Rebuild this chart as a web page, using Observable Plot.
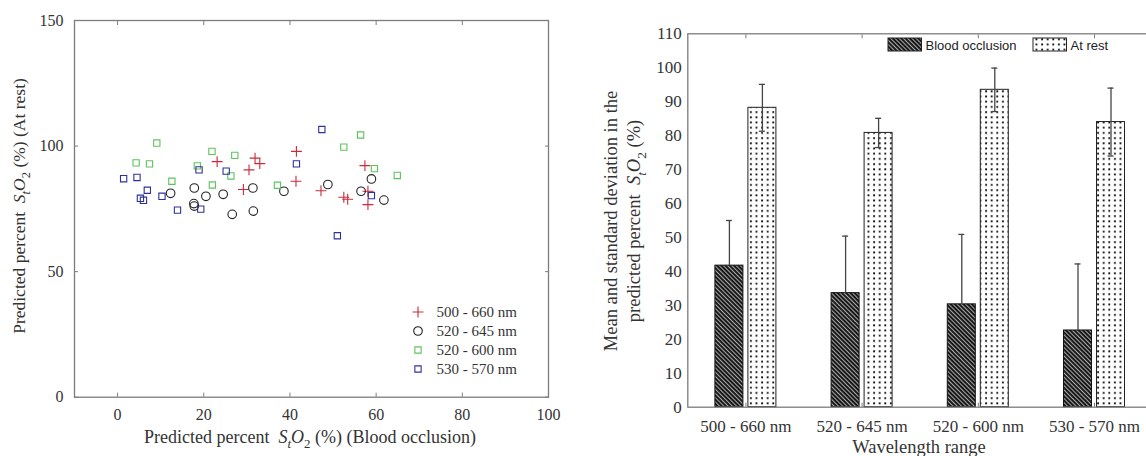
<!DOCTYPE html>
<html><head><meta charset="utf-8">
<script src="https://cdn.jsdelivr.net/npm/d3@7"></script>
<script src="https://cdn.jsdelivr.net/npm/@observablehq/plot@0.6"></script>
<style>
html,body{margin:0;padding:0;background:#fff;overflow:hidden;}
#wrap{position:relative;width:1160px;height:456px;overflow:hidden;}
#left{position:absolute;left:0;top:0;}
#right{position:absolute;left:580px;top:0;}
</style></head><body><div id="wrap"><div id="left"></div><div id="right"></div></div>
<script>
// ---------- Scatter data (Predicted StO2 %, blood occlusion vs at rest) ----------
const seriesNames = ["500 - 660 nm", "520 - 645 nm", "520 - 600 nm", "530 - 570 nm"];
const x500_660 = [23.1, 31.9, 33.0, 30.5, 29.2, 41.5, 41.4, 47.2, 52.5, 53.4, 57.4, 58.1, 58.1];
const y500_660 = [93.8, 95.2, 93.0, 90.5, 82.7, 97.9, 86.0, 82.2, 79.6, 78.8, 92.2, 82.0, 76.7];
const x520_645 = [12.3, 17.8, 20.5, 24.5, 31.4, 17.7, 17.8, 26.6, 31.5, 38.6, 48.8, 56.5, 58.9, 61.8];
const y520_645 = [81.2, 83.3, 80.0, 80.8, 83.3, 77.1, 76.1, 72.8, 74.1, 82.0, 84.7, 82.0, 86.9, 78.5];
const x520_600 = [9.1, 4.3, 7.4, 12.6, 21.9, 27.2, 26.3, 22.0, 18.5, 37.1, 52.5, 56.4, 59.6, 64.9];
const y520_600 = [101.2, 93.3, 92.9, 86.0, 97.9, 96.3, 88.1, 84.5, 92.1, 84.4, 99.6, 104.4, 91.0, 88.3];
const x530_570 = [1.4, 4.5, 6.9, 5.3, 6.0, 10.3, 13.9, 18.9, 19.3, 25.2, 41.5, 47.4, 58.9, 51.0];
const y530_570 = [87.0, 87.5, 82.4, 79.2, 78.4, 80.0, 74.5, 90.5, 74.9, 90.0, 92.9, 106.6, 80.3, 64.3];
const scatterXTicks = [0, 20, 40, 60, 80, 100];
const scatterYTicks = [0, 50, 100, 150];

// ---------- Bar data (mean and SD) ----------
const groups = ["500 - 660 nm", "520 - 645 nm", "520 - 600 nm", "530 - 570 nm"];
const occlusionMean = [41.7, 33.6, 30.3, 22.6];
const occlusionSD = [13.3, 16.8, 20.6, 19.6];
const restMean = [88.2, 80.8, 93.5, 84.0];
const restSD = [6.9, 4.3, 6.4, 10.0];
const barYTicks = [0, 10, 20, 30, 40, 50, 60, 70, 80, 90, 100, 110];
const barLegend = ["Blood occlusion", "At rest"];

const colors = ["#cc2a3a", "#222222", "#5cc45c", "#30309a"];
const symbols = ["plus", "circle", "square2", "square2"];
const radii = [3.6, 4.3, 4.0, 4.0];
const d3Symbols = {plus: d3.symbolPlus, circle: d3.symbolCircle, square2: d3.symbolSquare2};

const serif = "'Liberation Serif', 'Times New Roman', serif";
const sans = "'Liberation Sans', Arial, sans-serif";
const frameColor = "#7c7c7c";
const textColor = "#333";

const pts = (xs, ys) => xs.map((x, i) => ({x, y: ys[i]}));
const scatterSets = [pts(x500_660, y500_660), pts(x520_645, y520_645), pts(x520_600, y520_600), pts(x530_570, y530_570)];

function addRichText(sel, parts, size) {
  parts.forEach(p => {
    const t = sel.append("tspan").text(p.t);
    if (p.i) t.attr("font-style", "italic");
    if (p.sub) t.attr("font-size", size * 0.72).attr("dy", size * 0.3);
    if (p.up) t.attr("dy", -size * 0.3);
  });
}
const sto2 = () => [{t: "S", i: 1}, {t: "t", i: 1, sub: 1}, {t: "O", i: 1, up: 1}, {t: "2", sub: 1}];

// ---------- Left: scatter ----------
const left = Plot.plot({
  width: 580, height: 456,
  marginLeft: 74, marginRight: 32, marginTop: 20, marginBottom: 59.3,
  x: {domain: [-10, 100]},
  y: {domain: [0, 150]},
  style: {fontFamily: serif, fontSize: "16px", color: textColor, background: "white"},
  marks: [
    Plot.frame({stroke: frameColor, strokeWidth: 1.3}),
    Plot.axisX({ticks: scatterXTicks, anchor: "bottom", tickSize: -4, tickPadding: 15, label: null, stroke: frameColor, fill: textColor}),
    Plot.axisX({ticks: scatterXTicks, anchor: "top", tickSize: -4, tickFormat: () => "", label: null, stroke: frameColor}),
    Plot.axisY({ticks: scatterYTicks, anchor: "left", tickSize: -4, tickPadding: 15, label: null, stroke: frameColor, fill: textColor}),
    Plot.axisY({ticks: scatterYTicks, anchor: "right", tickSize: -4, tickFormat: () => "", label: null, stroke: frameColor}),
    ...scatterSets.map((d, k) => Plot.dot(d, {x: "x", y: "y", symbol: symbols[k], r: radii[k], stroke: colors[k], fill: "none", strokeWidth: 1.1}))
  ]
});
document.getElementById("left").appendChild(left);
{
  const svg = d3.select(left);
  const g = svg.append("g").attr("text-anchor", "start");
  seriesNames.forEach((name, k) => {
    const yy = 312 + k * 19;
    g.append("path").attr("transform", `translate(418,${yy})`)
      .attr("d", d3.symbol().type(d3Symbols[symbols[k]]).size(radii[k] * radii[k] * Math.PI)())
      .attr("fill", "none").attr("stroke", colors[k]).attr("stroke-width", 1.1);
    g.append("text").attr("x", 436.5).attr("y", yy + 5).attr("text-anchor", "start")
      .attr("font-family", serif).attr("font-size", 15).attr("fill", textColor).text(name);
  });
  const xt = svg.append("text").attr("x", 310).attr("y", 443).attr("text-anchor", "middle")
    .attr("font-family", serif).attr("font-size", 18).attr("fill", textColor);
  addRichText(xt, [{t: "Predicted percent  "}, ...sto2(), {t: " (%) (Blood occlusion)", up: 1}], 18);
  const yt = svg.append("text").attr("transform", "translate(25,206) rotate(-90)").attr("text-anchor", "middle")
    .attr("font-family", serif).attr("font-size", 17.5).attr("fill", textColor);
  addRichText(yt, [{t: "Predicted percent  "}, ...sto2(), {t: " (%) (At rest)", up: 1}], 17.5);
}

// ---------- Right: bar chart ----------
const rows = groups.map((g, i) => ({g, occ: occlusionMean[i], occSD: occlusionSD[i], rest: restMean[i], restSD: restSD[i]}));
const W = 580, mL = 107.3, mR = 7.9;
const step = (W - mL - mR) / groups.length;
const barW = 28, gap = 5, capHalf = 3;
const off = gap / 2 + barW / 2;
const right = Plot.plot({
  width: W, height: 456,
  marginLeft: mL, marginRight: mR, marginTop: 33.3, marginBottom: 49.3,
  x: {domain: groups, padding: 0, round: false},
  y: {domain: [0, 110]},
  style: {fontFamily: serif, fontSize: "17px", color: textColor, background: "white"},
  marks: [
    Plot.axisX({anchor: "bottom", tickSize: -4, tickPadding: 16.5, label: null, stroke: frameColor, fill: textColor}),
    Plot.axisX({anchor: "top", tickSize: -4, tickFormat: () => "", label: null, stroke: frameColor}),
    Plot.axisY({ticks: barYTicks, anchor: "left", tickSize: 0, tickPadding: 6, label: null, fill: textColor}),
    Plot.barY(rows, {x: "g", y: "occ", fill: "url(#hatch)", stroke: "#111", strokeWidth: 1,
      insetLeft: step / 2 - gap / 2 - barW, insetRight: step / 2 + gap / 2}),
    Plot.barY(rows, {x: "g", y: "rest", fill: "url(#dots)", stroke: "#222", strokeWidth: 1,
      insetLeft: step / 2 + gap / 2, insetRight: step / 2 - gap / 2 - barW}),
    Plot.ruleX(rows, {x: "g", y1: "occ", y2: d => d.occ + d.occSD, dx: -off, stroke: "#444", strokeWidth: 1.3}),
    Plot.tickY(rows, {x: "g", y: d => d.occ + d.occSD, insetLeft: step / 2 - off - capHalf, insetRight: step / 2 + off - capHalf, stroke: "#444", strokeWidth: 1.3}),
    Plot.ruleX(rows, {x: "g", y1: d => d.rest - d.restSD, y2: d => d.rest + d.restSD, dx: off, stroke: "#444", strokeWidth: 1.3}),
    Plot.tickY(rows, {x: "g", y: d => d.rest + d.restSD, insetLeft: step / 2 + off - capHalf, insetRight: step / 2 - off - capHalf, stroke: "#444", strokeWidth: 1.3}),
    Plot.tickY(rows, {x: "g", y: d => d.rest - d.restSD, insetLeft: step / 2 + off - capHalf, insetRight: step / 2 - off - capHalf, stroke: "#444", strokeWidth: 1.3}),
    Plot.frame({stroke: frameColor, strokeWidth: 1.3})
  ]
});
document.getElementById("right").appendChild(right);
{
  const svg = d3.select(right);
  const defs = svg.insert("defs", ":first-child");
  const h = defs.append("pattern").attr("id", "hatch").attr("patternUnits", "userSpaceOnUse")
    .attr("width", 3).attr("height", 3).attr("patternTransform", "rotate(-45)");
  h.append("rect").attr("width", 3).attr("height", 3).attr("fill", "#111");
  h.append("rect").attr("width", 1.1).attr("height", 3).attr("fill", "#a8a8a8");
  const p = defs.append("pattern").attr("id", "dots").attr("patternUnits", "userSpaceOnUse")
    .attr("width", 5.6).attr("height", 5.2);
  p.append("rect").attr("width", 5.6).attr("height", 5.2).attr("fill", "white");
  p.append("rect").attr("x", 2).attr("y", 2).attr("width", 1.8).attr("height", 1.8).attr("fill", "#000");
  const lg = svg.append("g").attr("text-anchor", "start");
  const fills = ["url(#hatch)", "url(#dots)"];
  const lx = [308, 453];
  barLegend.forEach((name, k) => {
    lg.append("rect").attr("x", lx[k]).attr("y", 38).attr("width", 33.5).attr("height", 13)
      .attr("fill", fills[k]).attr("stroke", "#222").attr("stroke-width", 1);
    lg.append("text").attr("x", lx[k] + 37.5).attr("y", 49.5).attr("text-anchor", "start")
      .attr("font-family", sans).attr("font-size", 13).attr("fill", "#222").text(name);
  });
  const fs = 18.5;
  svg.append("text").attr("transform", "translate(37,221) rotate(-90)").attr("text-anchor", "middle")
    .attr("font-family", serif).attr("font-size", fs).attr("fill", textColor).text("Mean and standard deviation in the");
  const t2 = svg.append("text").attr("transform", "translate(60,221) rotate(-90)").attr("text-anchor", "middle")
    .attr("font-family", serif).attr("font-size", fs).attr("fill", textColor);
  addRichText(t2, [{t: "predicted percent  "}, ...sto2(), {t: " (%)", up: 1}], fs);
  svg.append("text").attr("x", 339).attr("y", 453).attr("text-anchor", "middle")
    .attr("font-family", serif).attr("font-size", fs).attr("fill", textColor).text("Wavelength range");
}
</script></body></html>
